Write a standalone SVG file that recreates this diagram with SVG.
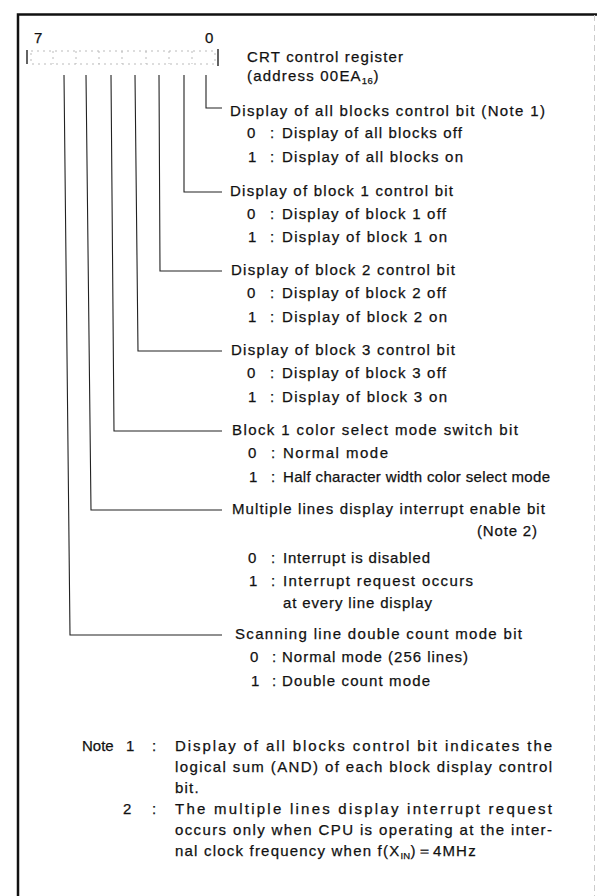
<svg xmlns="http://www.w3.org/2000/svg" width="597" height="896" viewBox="0 0 597 896">
<style>
text{font-family:"Liberation Sans",Arial,sans-serif;font-size:15px;fill:#111;stroke:#111;stroke-width:0.25;}
.sub{font-size:9.5px;}
.ls{letter-spacing:1.2px;}
.ln{stroke:#222;stroke-width:1.1;fill:none;}
.frame{stroke:#111;fill:none;}
.cell{stroke:#bbb;stroke-width:1;stroke-dasharray:2 4;fill:none;}
</style>
<rect width="597" height="896" fill="#fff"/>
<g id="frame">
<path class="frame" d="M18 896 V14.5 H597" stroke-width="2.5"/>
<path d="M594.5 15 V896" stroke="#ccc" stroke-width="1" stroke-dasharray="6 4"/>
</g>
<g id="register">
<text x="34" y="43">7</text>
<text x="205" y="43">0</text>
<path class="frame" stroke-width="1.3" d="M27 50 V64 M218 49 V66"/>
<rect class="cell" x="31" y="51" width="184" height="13"/>
<path class="cell" d="M53 51 V64 M76 51 V64 M99 51 V64 M122 51 V64 M146 51 V64 M169 51 V64 M192 51 V64"/>
<text x="247" y="62" textLength="156" lengthAdjust="spacing">CRT control register</text>
<text x="247" y="81" class="ls">(address 00EA<tspan class="sub" dy="3" style="letter-spacing:0.5px">16</tspan><tspan dy="-3">)</tspan></text>
</g>
<g id="connectors">
<path class="ln" d="M206 75 V108 H222"/>
<path class="ln" d="M184 75 V192 H222"/>
<path class="ln" d="M159 75 L160 271 H222"/>
<path class="ln" d="M135 75 L138 351 H222"/>
<path class="ln" d="M111 75 L114 431 H222"/>
<path class="ln" d="M86 75 L91 510 H222"/>
<path class="ln" d="M64 75 L70 635 H222"/>
</g>
<g id="bit0">
<text x="230" y="116" textLength="315" lengthAdjust="spacing">Display of all blocks control bit (Note 1)</text>
<text x="247" y="138">0</text><text x="270" y="138">:</text>
<text x="282" y="138" textLength="180" lengthAdjust="spacing">Display of all blocks off</text>
<text x="248" y="162">1</text><text x="270" y="162">:</text>
<text x="282" y="162" textLength="181" lengthAdjust="spacing">Display of all blocks on</text>
</g>
<g id="bit1">
<text x="230" y="196" textLength="223" lengthAdjust="spacing">Display of block 1 control bit</text>
<text x="247" y="219">0</text><text x="270" y="219">:</text>
<text x="282" y="219" textLength="164" lengthAdjust="spacing">Display of block 1 off</text>
<text x="248" y="242">1</text><text x="270" y="242">:</text>
<text x="282" y="242" textLength="165" lengthAdjust="spacing">Display of block 1 on</text>
</g>
<g id="bit2">
<text x="231" y="275" textLength="224" lengthAdjust="spacing">Display of block 2 control bit</text>
<text x="247" y="298">0</text><text x="270" y="298">:</text>
<text x="282" y="298" textLength="164" lengthAdjust="spacing">Display of block 2 off</text>
<text x="248" y="322">1</text><text x="270" y="322">:</text>
<text x="282" y="322" textLength="165" lengthAdjust="spacing">Display of block 2 on</text>
</g>
<g id="bit3">
<text x="231" y="355" textLength="224" lengthAdjust="spacing">Display of block 3 control bit</text>
<text x="247" y="378">0</text><text x="270" y="378">:</text>
<text x="282" y="378" textLength="164" lengthAdjust="spacing">Display of block 3 off</text>
<text x="248" y="402">1</text><text x="270" y="402">:</text>
<text x="282" y="402" textLength="165" lengthAdjust="spacing">Display of block 3 on</text>
</g>
<g id="bit4">
<text x="232" y="435" textLength="286" lengthAdjust="spacing">Block 1 color select mode switch bit</text>
<text x="248" y="458">0</text><text x="271" y="458">:</text>
<text x="283" y="458" textLength="105" lengthAdjust="spacing">Normal mode</text>
<text x="249" y="482">1</text><text x="271" y="482">:</text>
<text x="283" y="482" textLength="267" lengthAdjust="spacing">Half character width color select mode</text>
</g>
<g id="bit5">
<text x="232" y="514" textLength="313" lengthAdjust="spacing">Multiple lines display interrupt enable bit</text>
<text x="477" y="536" textLength="60" lengthAdjust="spacing">(Note 2)</text>
<text x="248" y="563">0</text><text x="271" y="563">:</text>
<text x="283" y="563" textLength="147" lengthAdjust="spacing">Interrupt is disabled</text>
<text x="249" y="586">1</text><text x="271" y="586">:</text>
<text x="283" y="586" textLength="190" lengthAdjust="spacing">Interrupt request occurs</text>
<text x="283" y="608" textLength="149" lengthAdjust="spacing">at every line display</text>
</g>
<g id="bit6">
<text x="235" y="639" textLength="287" lengthAdjust="spacing">Scanning line double count mode bit</text>
<text x="250" y="662">0</text><text x="272" y="662">:</text>
<text x="282" y="662" textLength="186" lengthAdjust="spacing">Normal mode (256 lines)</text>
<text x="251" y="686">1</text><text x="272" y="686">:</text>
<text x="282" y="686" textLength="148" lengthAdjust="spacing">Double count mode</text>
</g>
<g id="notes">
<text x="82" y="751">Note</text><text x="126" y="751">1</text><text x="152" y="751">:</text>
<text x="175" y="751" textLength="377" lengthAdjust="spacing">Display of all blocks control bit indicates the</text>
<text x="175" y="772" textLength="377" lengthAdjust="spacing">logical sum (AND) of each block display control</text>
<text x="175" y="793" class="ls">bit.</text>
<text x="123" y="814">2</text><text x="152" y="814">:</text>
<text x="175" y="814" textLength="377" lengthAdjust="spacing">The multiple lines display interrupt request</text>
<text x="175" y="835" textLength="377" lengthAdjust="spacing">occurs only when CPU is operating at the inter-</text>
<text x="175" y="856" class="ls">nal clock frequency when f(X<tspan class="sub" dy="3" style="letter-spacing:0.3px">IN</tspan><tspan dy="-3">)＝4MHz</tspan></text>
</g>
</svg>
